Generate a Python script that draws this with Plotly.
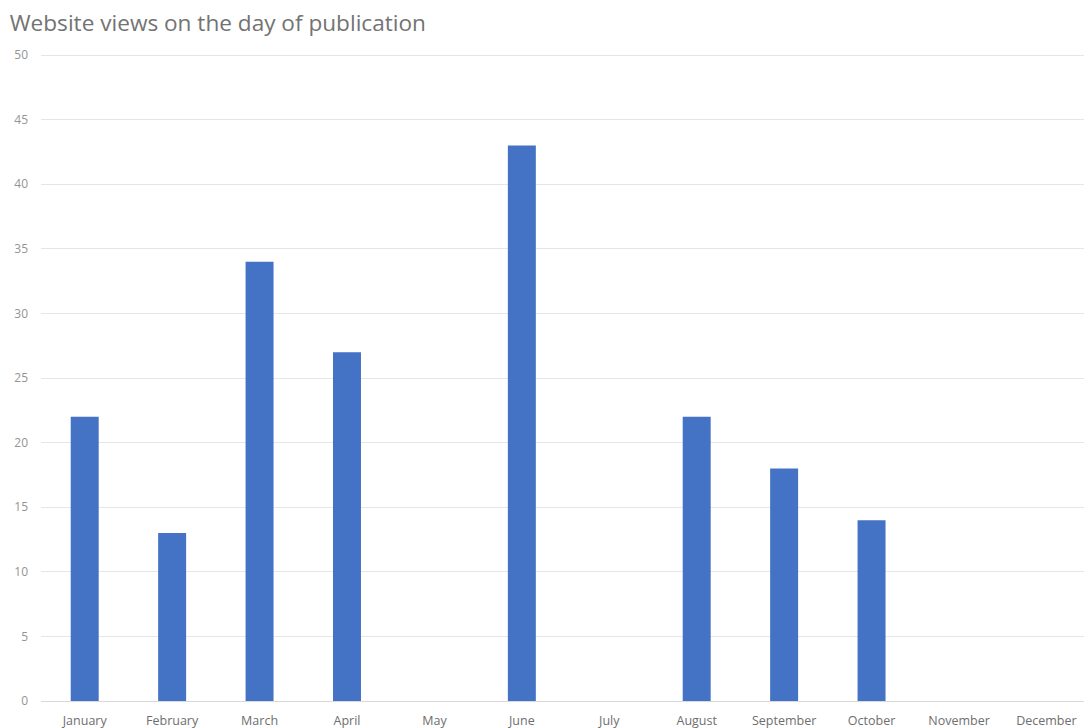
import plotly.graph_objects as go

months = ["January", "February", "March", "April", "May", "June", "July",
          "August", "September", "October", "November", "December"]
views = [22, 13, 34, 27, 0, 43, 0, 22, 18, 14, 0, 0]
y_ticks = [0, 5, 10, 15, 20, 25, 30, 35, 40, 45, 50]

fig = go.Figure(go.Bar(x=list(range(len(months))), y=views, marker_color="#4472C4",
                       marker_line_width=0))

fig.update_layout(
    width=1084, height=728,
    margin=dict(l=41, r=0, t=54, b=27),
    paper_bgcolor="white", plot_bgcolor="white",
    bargap=0.68,
    showlegend=False,
    title=dict(text="Website views on the day of publication", x=0.009, xanchor="left",
               y=0.968, yanchor="middle",
               font=dict(family="Open Sans", size=22.6, color="#737373")),
    font=dict(family="Open Sans", color="#7f7f7f"),
)
fig.update_xaxes(
    tickmode="array", tickvals=list(range(len(months))), ticktext=months,
    range=[-0.5, 11.43], showgrid=False, showline=False, ticks="",
    ticklabelstandoff=10,
    tickfont=dict(size=12.5, color="#6e6e6e"),
)
fig.update_yaxes(
    range=[0, 50.08], tickmode="array", tickvals=y_ticks,
    showgrid=True, gridcolor="#e6e6e6", gridwidth=1,
    zeroline=True, zerolinecolor="#d9d9d9", zerolinewidth=1,
    ticks="", ticklabelstandoff=12,
    tickfont=dict(size=12, color="#949494"),
)

fig.write_html("out.html")
